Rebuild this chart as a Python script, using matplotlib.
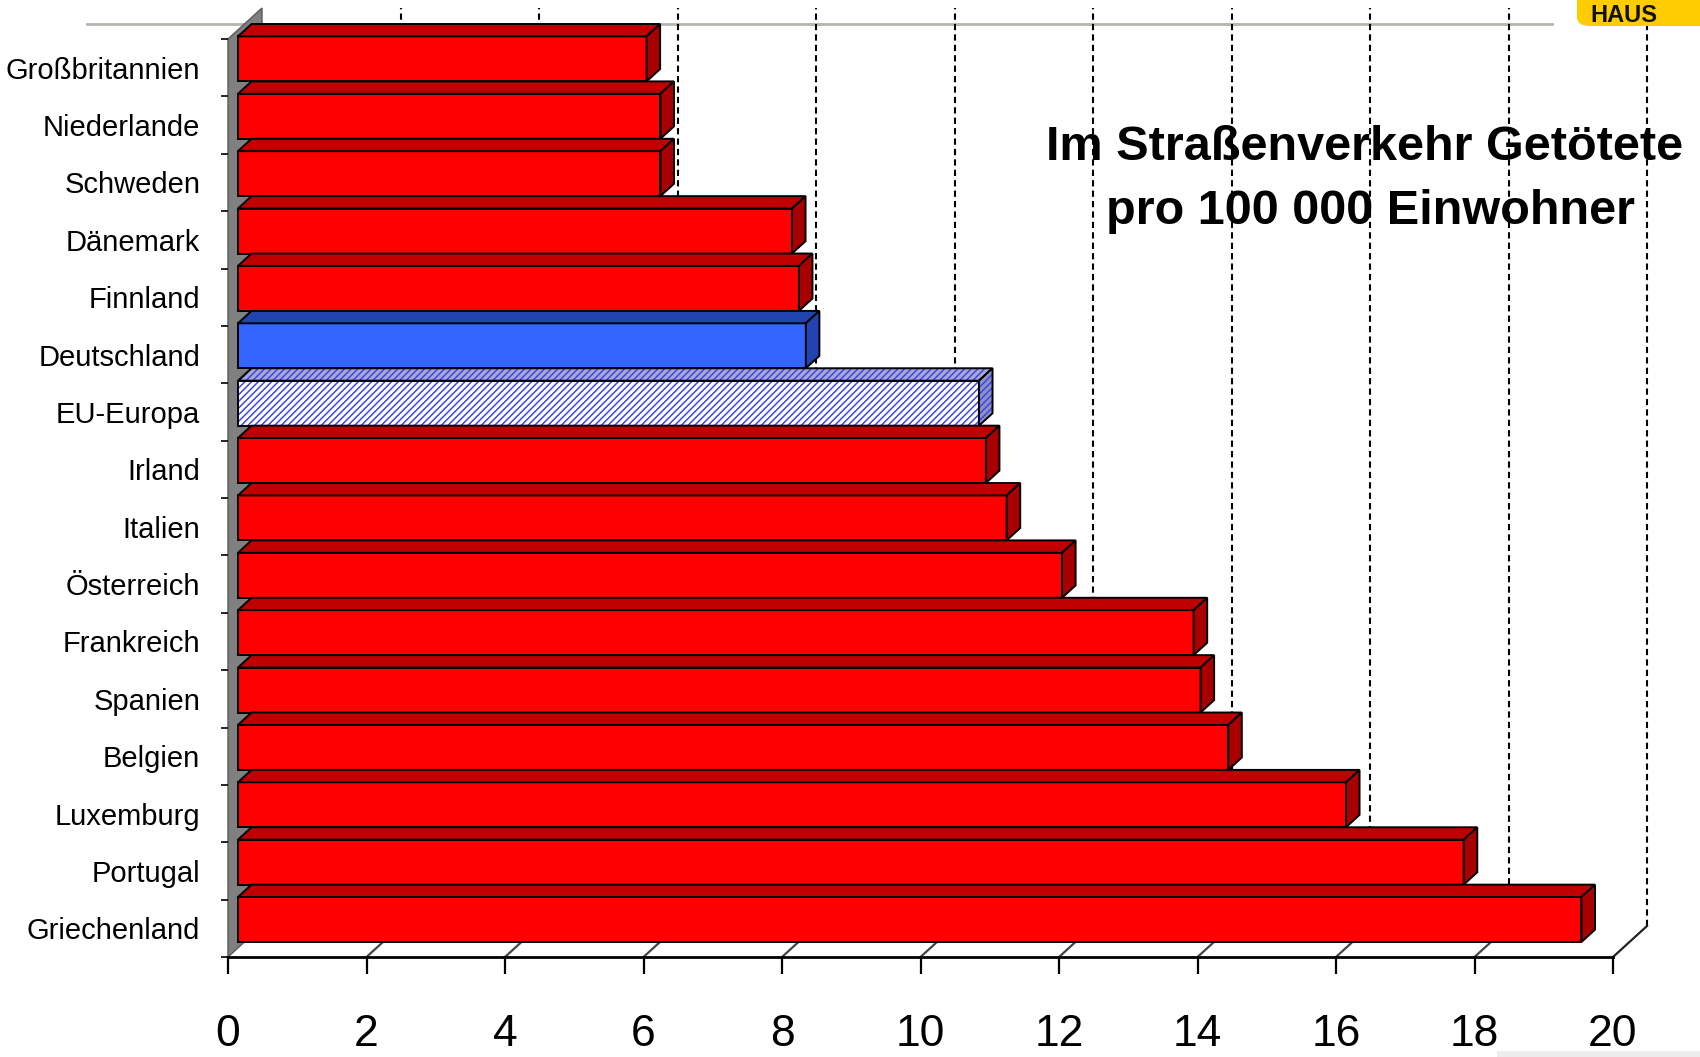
import numpy as np
import matplotlib.pyplot as plt
from matplotlib.patches import Polygon, Rectangle, FancyBboxPatch, Circle

plt.rcParams['font.family'] = ['Liberation Sans', 'DejaVu Sans']
plt.rcParams['hatch.linewidth'] = 1.1

# data, top to bottom as in the chart
countries = ['Großbritannien', 'Niederlande', 'Schweden', 'Dänemark', 'Finnland',
             'Deutschland', 'EU-Europa', 'Irland', 'Italien', 'Österreich',
             'Frankreich', 'Spanien', 'Belgien', 'Luxemburg', 'Portugal', 'Griechenland']
values = [5.9, 6.1, 6.1, 8.0, 8.1, 8.2, 10.7, 10.8, 11.1, 11.9,
          13.8, 13.9, 14.3, 16.0, 17.7, 19.4]
kinds = ['red'] * 5 + ['de', 'eu'] + ['red'] * 9
x_ticks = list(range(0, 21, 2))
title = ['Im Straßenverkehr Getötete', 'pro 100 000 Einwohner']

# front, top, side colours
colors = {'red': ('#ff0000', '#c00000', '#a80000'),
          'de': ('#3366ff', '#2244b0', '#2244b0'),
          'eu': ('#ffffff', '#a8a8d0', '#9090c0')}

n = len(countries)
ypos = np.arange(n)[::-1]

fig = plt.figure(figsize=(17, 10.57), dpi=100)
ax = fig.add_axes([228 / 1700, 100 / 1057, 1385 / 1700, 918 / 1057])
ax.set_xlim(0, 20)
ax.set_ylim(-0.5, n - 0.5)

# 3d depth in data units
DX = 34 / 69.25
DY = 31 / 57.375
x0 = 0.144          # bar front starts a bit behind the wall
h = 0.784           # front face height
ox, oy = 0.196, 0.216  # bar depth


def face(pts, fc, hatch=None, z=3):
    if hatch:
        ax.add_patch(Polygon(pts, closed=True, facecolor=fc, edgecolor='#3a48e8',
                             hatch=hatch, lw=0, zorder=z, clip_on=False))
        fc = 'none'
    ax.add_patch(Polygon(pts, closed=True, facecolor=fc, edgecolor='black',
                         lw=1.4, zorder=z, clip_on=False))


# left wall
ax.add_patch(Polygon([(0, -0.5), (0, n - 0.5), (DX, n - 0.5 + DY), (DX, -0.5 + DY)],
                     closed=True, facecolor='#808080', edgecolor='#5a5a5a', lw=1,
                     zorder=1, clip_on=False))

# back wall gridlines and floor lines
for v in x_ticks[1:]:
    ax.plot([v + DX, v + DX], [-0.5 + DY, n - 0.5 + DY], color='black', lw=1.5,
            ls=(0, (3, 2)), zorder=1, clip_on=False)
    ax.plot([v, v + DX], [-0.5, -0.5 + DY], color='#222222' if v == 20 else '#444444',
            lw=1.6, zorder=1, clip_on=False)

# bars
for y, v, kind in zip(ypos, values, kinds):
    fc, tc, sc = colors[kind]
    hatch = '/////' if kind == 'eu' else None
    b = y - 0.239
    face([(x0, b), (x0 + v, b), (x0 + v, b + h), (x0, b + h)], fc, hatch)
    face([(x0, b + h), (x0 + v, b + h), (x0 + v + ox, b + h + oy), (x0 + ox, b + h + oy)], tc, hatch)
    face([(x0 + v, b), (x0 + v + ox, b + oy), (x0 + v + ox, b + h + oy), (x0 + v, b + h)], sc, hatch)

# axes styling
for s in ['top', 'right', 'left']:
    ax.spines[s].set_visible(False)
ax.spines['bottom'].set_linewidth(2)
ax.set_xticks(x_ticks)
ax.set_xticklabels([str(t) for t in x_ticks], fontsize=32)
ax.tick_params(axis='x', length=12, width=1.6, pad=29)
ax.set_yticks(ypos)
ax.set_yticklabels(countries, fontsize=21)
ax.set_yticks(np.arange(-0.5, n, 1.0), minor=True)
ax.tick_params(axis='y', which='major', length=0, pad=20)
ax.tick_params(axis='y', which='minor', length=5, width=1.2)

# title
fig.text(1365 / 1700, 1 - 160 / 1057, title[0], ha='center', va='baseline',
         fontsize=35, fontweight='bold')
fig.text(1370 / 1700, 1 - 224 / 1057, title[1], ha='center', va='baseline',
         fontsize=35, fontweight='bold')

# slide decorations
fig.add_artist(plt.Line2D([87 / 1700, 1552 / 1700], [1 - 24 / 1057] * 2,
                          color='#b5b5ad', lw=2, transform=fig.transFigure, zorder=0))
fig.add_artist(FancyBboxPatch((1577 / 1700, 1 - 26 / 1057), 0.2, 0.05,
                              boxstyle='round,pad=0,rounding_size=0.008',
                              facecolor='#ffcc00', edgecolor='none',
                              transform=fig.transFigure))
fig.text(1590 / 1700, 1 - 22 / 1057, 'HAUS', ha='left', va='baseline',
         fontsize=17, fontweight='bold', color='#111111')
fig.add_artist(Rectangle((1497 / 1700, 0), 0.2, 6 / 1057, facecolor='#ececec',
                         edgecolor='none', transform=fig.transFigure))
fig.add_artist(Circle((1543 / 1700, -8 / 1057), 12 / 1700, facecolor='#b00000',
                      edgecolor='none', transform=fig.transFigure))

fig.savefig('out.png', dpi=100)
